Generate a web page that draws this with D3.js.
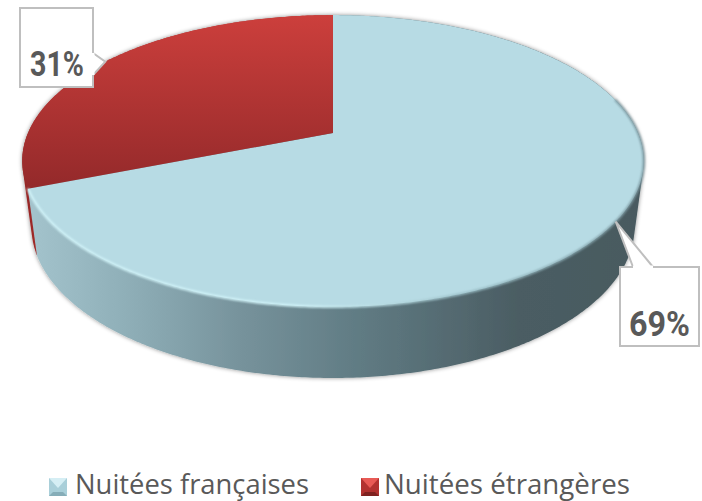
<!DOCTYPE html>
<html>
<head>
<meta charset="utf-8">
<script src="https://cdn.jsdelivr.net/npm/d3@7"></script>
<style>
    html, body { margin: 0; padding: 0; background: #fff; }
    svg { display: block; }
</style>
</head>
<body>
<div id="chart"></div>
<script>
const categories = ["Nuitées françaises", "Nuitées étrangères"]
const values = [69, 31]
const valueLabels = ["69%", "31%"]

const WIDTH = 702
const HEIGHT = 501

// the disc is a unit circle seen in perspective
const CX = 333
const top_ = { a: 305, y0: 133, b: -115, c: 0.1918 }
const bottom_ = { a: 296, y0: 197.5, b: -108, c: 0.1918 }

function project(plane, angle) {
    const u = Math.sin(angle), v = Math.cos(angle)
    const w = 1 + plane.c * v
    return [CX + plane.a * u / w, (plane.y0 + plane.b * v) / w]
}

function arcPoints(plane, start, end) {
    const n = Math.ceil((end - start) / 0.01)
    return d3.range(n + 1).map(i => project(plane, start + (end - start) * i / n))
}

const pie = d3.pie().sort(null)
const slices = pie(values)
const line = d3.line()

const svg = d3.select("#chart").append("svg")
    .attr("width", WIDTH)
    .attr("height", HEIGHT)

const defs = svg.append("defs")

function gradient(id, x1, y1, x2, y2, stops) {
    const g = defs.append("linearGradient")
        .attr("id", id)
        .attr("gradientUnits", "userSpaceOnUse")
        .attr("x1", x1).attr("y1", y1).attr("x2", x2).attr("y2", y2)
    stops.forEach(s => g.append("stop").attr("offset", s[0]).attr("stop-color", s[1]))
}

gradient("wallBlue", 30, 0, 640, 0, [[0, "#a3c3cc"], [0.15, "#90b0b9"], [0.35, "#76929b"], [0.55, "#5f7a82"], [0.8, "#4b5d63"], [1, "#485a60"]])
gradient("wallRed", 20, 0, 40, 0, [[0, "#8f2422"], [1, "#a52b2a"]])
gradient("faceRed", 0, 15, 0, 190, [[0, "#cc3f3c"], [1, "#93292a"]])
gradient("rim", 30, 0, 640, 0, [[0, "#d4f6fb"], [0.45, "#d4f6fb"], [0.7, "#9cc0c8"], [1, "#7d9aa2"]])

const shadow = defs.append("filter").attr("id", "shadow")
    .attr("x", "-5%").attr("y", "-5%").attr("width", "110%").attr("height", "110%")
shadow.append("feDropShadow")
    .attr("dx", 0).attr("dy", 0).attr("stdDeviation", 2.2)
    .attr("flood-color", "#000").attr("flood-opacity", 0.45)

defs.append("filter").attr("id", "soft")
    .append("feGaussianBlur").attr("stdDeviation", 0.8)

const faceFill = ["#b7dbe4", "url(#faceRed)"]
const wallFill = ["url(#wallBlue)", "url(#wallRed)"]

// walls, red one first so the blue one covers it
const walls = svg.append("g").attr("filter", "url(#shadow)")
walls.selectAll("path")
    .data(slices.map((d, i) => ({ d, i })).reverse())
    .enter().append("path")
    .attr("fill", e => wallFill[e.i])
    .attr("d", e => {
        const pts = arcPoints(top_, e.d.startAngle, e.d.endAngle)
            .concat(arcPoints(bottom_, e.d.startAngle, e.d.endAngle))
        return line(d3.polygonHull(pts)) + "Z"
    })

// top of the disc
svg.append("g").selectAll("path")
    .data(slices)
    .enter().append("path")
    .attr("fill", (d, i) => faceFill[i])
    .attr("d", d => {
        const pts = [[CX, top_.y0]].concat(arcPoints(top_, d.startAngle, d.endAngle))
        return line(pts) + "Z"
    })

// bright rim along the front edge of the disc
svg.append("path")
    .attr("fill", "none")
    .attr("stroke", "url(#rim)")
    .attr("stroke-width", 2.2)
    .attr("filter", "url(#soft)")
    .attr("d", line(arcPoints(top_, slices[0].startAngle + Math.PI * 0.42, slices[0].endAngle)))

// callouts
const callouts = [
    { box: [620, 267, 79, 79], base: [[633, 267], [653, 267]], textX: 659.5, textY: 336, textW: 61 },
    { box: [20, 8, 73, 79], base: [[93, 75], [93, 53]], textX: 57, textY: 76, textW: 54 }
]

const labelG = svg.append("g")
slices.forEach((d, i) => {
    const c = callouts[i]
    const tip = project(top_, (d.startAngle + d.endAngle) / 2)
    const [x, y, w, h] = c.box
    labelG.append("rect")
        .attr("x", x).attr("y", y).attr("width", w).attr("height", h)
        .attr("fill", "#fff").attr("stroke", "#bfbfbf").attr("stroke-width", 2)
    labelG.append("path")
        .attr("d", line([c.base[0], tip, c.base[1]]))
        .attr("fill", "#fff").attr("stroke", "#bfbfbf").attr("stroke-width", 2)
    // hide the box line under the pointer
    labelG.append("path")
        .attr("d", line(c.base))
        .attr("stroke", "#fff").attr("stroke-width", 3)
    labelG.append("text")
        .attr("x", c.textX).attr("y", c.textY)
        .attr("text-anchor", "middle")
        .attr("font-family", "Roboto, sans-serif")
        .attr("font-weight", "bold")
        .attr("font-size", 35)
        .attr("textLength", c.textW)
        .attr("lengthAdjust", "spacingAndGlyphs")
        .attr("fill", "#595959")
        .text(valueLabels[i])
})

// legend
const legendX = [49, 361]
const legendTextW = [234, 246]
const swatchColors = [
    { mid: "#a9cfd9", light: "#d5eef4", dark: "#86adb8" },
    { mid: "#b23230", light: "#e85a55", dark: "#7f2220" }
]
const SW = 18
const INSET = 4
const legend = svg.append("g").attr("transform", "translate(0, 478)")
categories.forEach((name, i) => {
    const g = legend.append("g").attr("transform", `translate(${legendX[i]}, 0)`)
    const col = swatchColors[i]
    g.append("rect").attr("width", SW).attr("height", SW).attr("fill", col.mid)
    g.append("path").attr("fill", col.light)
        .attr("d", line([[0, 0], [SW, 0], [SW / 2, SW - INSET * 2]]) + "Z")
    g.append("path").attr("fill", col.dark)
        .attr("d", line([[0, SW], [SW, SW], [SW - INSET, SW - INSET], [INSET, SW - INSET]]) + "Z")
    g.append("text")
        .attr("x", SW + (i === 0 ? 8 : 5))
        .attr("y", 16)
        .attr("font-family", "'Open Sans', sans-serif")
        .attr("font-size", 27)
        .attr("textLength", legendTextW[i])
        .attr("lengthAdjust", "spacingAndGlyphs")
        .attr("fill", "#595959")
        .text(name)
})
</script>
</body>
</html>
